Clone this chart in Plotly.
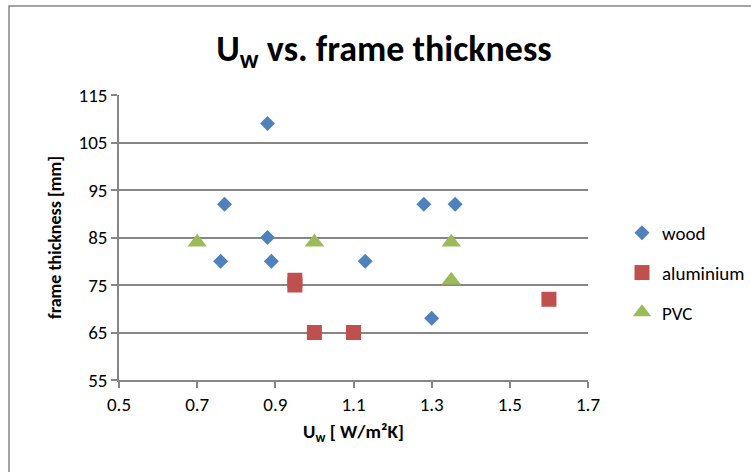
import plotly.graph_objects as go

wood_x = [0.88, 0.77, 1.28, 1.36, 0.88, 0.76, 0.89, 1.13, 1.30]
wood_y = [109, 92, 92, 92, 85, 80, 80, 80, 68]
alu_x = [0.95, 0.95, 1.00, 1.10, 1.60]
alu_y = [76, 75, 65, 65, 72]
pvc_x = [0.70, 1.00, 1.35, 1.35]
pvc_y = [84, 84, 84, 76]

FONT = "Calibri, Carlito, Lato, sans-serif"
GRAY = "#868686"

W, H = 751, 472
L, R, T, B = 119, 588, 95, 380

fig = go.Figure()
fig.add_trace(go.Scatter(x=wood_x, y=wood_y, mode="markers", name="wood", legendgroup="a",
                         marker=dict(symbol="diamond", size=11.5, color="#4F81BD", line=dict(width=0))))
fig.add_trace(go.Scatter(x=alu_x, y=alu_y, mode="markers", name="aluminium", legendgroup="b",
                         marker=dict(symbol="square", size=15, color="#C0504D", line=dict(width=0))))
fig.add_trace(go.Scatter(x=pvc_x, y=pvc_y, mode="markers", name="PVC", legendgroup="c",
                         marker=dict(symbol="triangle-up", size=17, color="#9BBB59", line=dict(width=0))))

pw, ph = R - L, B - T
fig.add_shape(type="rect", xref="paper", yref="paper",
              x0=(9 - L) / pw, x1=(W + 20 - L) / pw,
              y0=(B - (H + 20)) / ph, y1=(B - 6) / ph,
              line=dict(color=GRAY, width=1.5), fillcolor="rgba(0,0,0,0)", layer="below")

fig.update_layout(
    width=W, height=H,
    margin=dict(l=L, r=W - R, t=T, b=H - B, autoexpand=False),
    paper_bgcolor="white", plot_bgcolor="white",
    font=dict(family=FONT, size=19, color="#000000"),
    title=dict(text="U<sub>w</sub> vs. frame thickness", x=384 / W, xanchor="center",
               y=1 - 48 / H, yanchor="middle", yref="container",
               font=dict(size=36, family=FONT, color="#000000", weight="bold")),
    xaxis=dict(range=[0.5, 1.7], tick0=0.5, dtick=0.2, tickformat=".1f", showgrid=False,
               showline=True, linecolor=GRAY, linewidth=1.5, ticks="outside", ticklen=6,
               tickcolor=GRAY, tickwidth=1.5, zeroline=False,
               tickfont=dict(size=19),
               title=dict(text="U<sub>w</sub> [ W/m²K]", font=dict(size=19, weight="bold"), standoff=10)),
    yaxis=dict(range=[55, 115], tick0=55, dtick=10, showgrid=True, gridcolor=GRAY, gridwidth=1.5,
               showline=True, linecolor=GRAY, linewidth=1.5, ticks="outside", ticklen=6,
               tickcolor=GRAY, tickwidth=1.5, zeroline=False,
               tickfont=dict(size=19),
               title=dict(text="frame thickness [mm]", font=dict(size=18, weight="bold"), standoff=12)),
    legend=dict(x=(622 - L) / pw, y=(B - 273) / ph, xanchor="left", yanchor="middle",
                traceorder="grouped", tracegroupgap=12, font=dict(size=19),
                itemwidth=30, bgcolor="rgba(0,0,0,0)"),
    showlegend=True,
)

fig.write_html("out.html")
